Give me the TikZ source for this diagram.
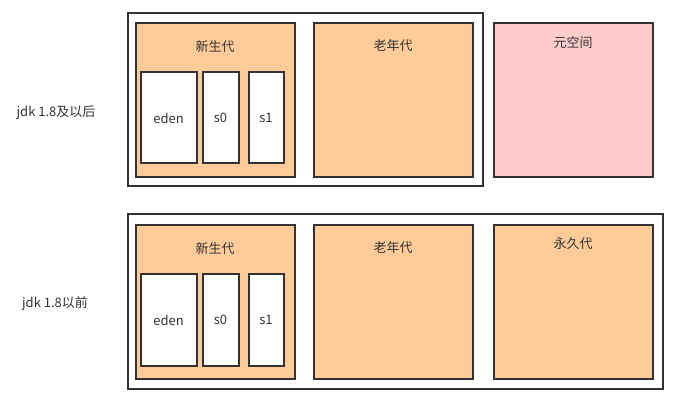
\documentclass[tikz,border=0pt]{standalone}
\usepackage{fontspec}
\setmainfont{Noto Sans CJK SC}
\definecolor{strk}{HTML}{333333}
\definecolor{orng}{HTML}{FFCC99}
\definecolor{pnk}{HTML}{FFCCCC}
\tikzset{
  box/.style={draw=strk, line width=2pt, rectangle, inner sep=0pt, outer sep=0pt, anchor=north west},
  gen/.style={box, fill=orng},
  meta/.style={box, fill=pnk},
  cell/.style={box, fill=white},
  lbl/.style={font=\fontsize{13}{15}\selectfont, text=strk, inner sep=0pt},
}
\begin{document}
\begin{tikzpicture}[x=1pt,y=-1pt]
\useasboundingbox (0,0) rectangle (685,406);
% top group
\node[box, minimum width=355pt, minimum height=173pt] (outA) at (128,13) {};
\node[gen, minimum width=159pt, minimum height=154pt] (youngA) at (136,23) {};
\node[cell, minimum width=56pt, minimum height=91pt] (edenA) at (141,72.5) {};
\node[cell, minimum width=36pt, minimum height=91pt] (s0A) at (202.5,72.5) {};
\node[cell, minimum width=35pt, minimum height=91pt] (s1A) at (248.5,72.5) {};
\node[gen, minimum width=159pt, minimum height=154pt] (oldA) at (313.5,23) {};
\node[meta, minimum width=159pt, minimum height=154pt] (metaA) at (493.5,23) {};
\node[lbl] (tyA) at (215,47) {新生代};
\node[lbl] (toA) at (393,46) {老年代};
\node[lbl] (tmA) at (573,43) {元空间};
\node[lbl] (teA) at (168.5,118) {eden};
\node[lbl] (t0A) at (220.5,118) {s0};
\node[lbl] (t1A) at (266,118) {s1};
\node[lbl] (jdkA) at (56,113) {jdk 1.8及以后};
% bottom group
\node[box, minimum width=535pt, minimum height=175pt] (outB) at (128,214) {};
\node[gen, minimum width=159pt, minimum height=154pt] (youngB) at (136,224.5) {};
\node[cell, minimum width=56pt, minimum height=92pt] (edenB) at (141,273.5) {};
\node[cell, minimum width=36pt, minimum height=92pt] (s0B) at (202.5,273.5) {};
\node[cell, minimum width=35pt, minimum height=92pt] (s1B) at (248.5,273.5) {};
\node[gen, minimum width=159pt, minimum height=154pt] (oldB) at (313.5,224.5) {};
\node[gen, minimum width=159pt, minimum height=154pt] (permB) at (493.5,224.5) {};
\node[lbl] (tyB) at (215,249) {新生代};
\node[lbl] (toB) at (393,248) {老年代};
\node[lbl] (tpB) at (573,244) {永久代};
\node[lbl] (teB) at (168.5,320) {eden};
\node[lbl] (t0B) at (220.5,320) {s0};
\node[lbl] (t1B) at (266,320) {s1};
\node[lbl] (jdkB) at (55,304) {jdk 1.8以前};
\end{tikzpicture}
\end{document}
